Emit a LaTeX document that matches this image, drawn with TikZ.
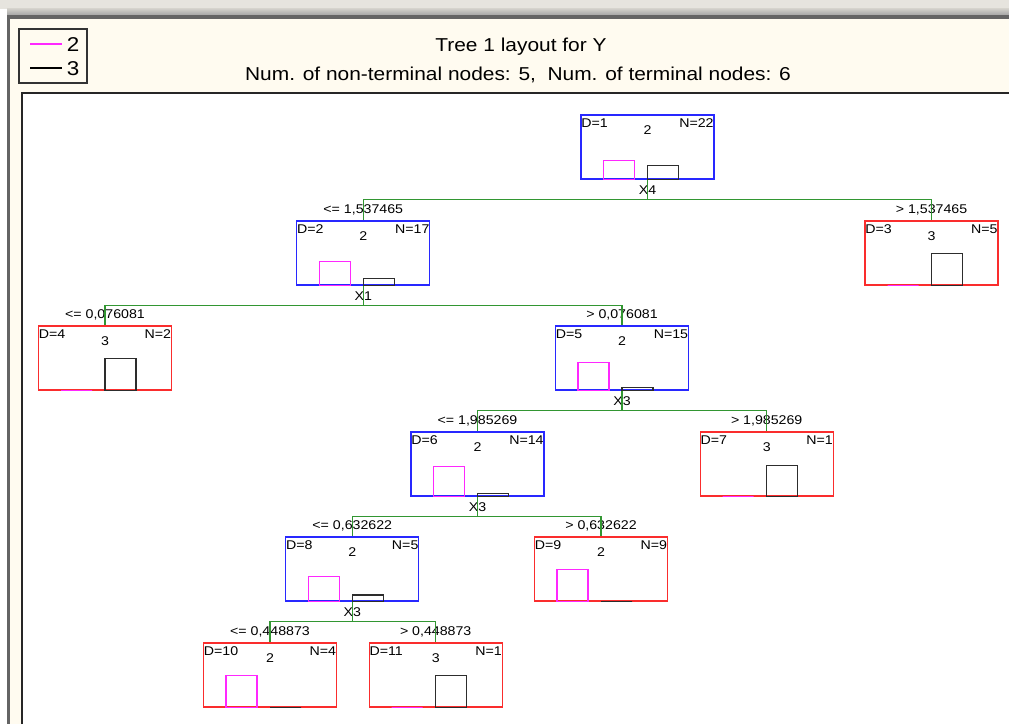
\documentclass[tikz,border=0pt]{standalone}
\usepackage{fontspec}
\setmainfont{Liberation Sans}[FakeStretch=1.12]

\definecolor{edgegreen}{RGB}{50,150,50}
\definecolor{boxblue}{RGB}{40,40,255}
\definecolor{boxred}{RGB}{250,45,45}
\definecolor{barpink}{RGB}{255,40,255}
\definecolor{bargrey}{RGB}{45,45,45}
\definecolor{panel}{RGB}{255,251,240}
\definecolor{chrome}{RGB}{230,228,222}
\definecolor{framedark}{RGB}{100,100,100}

\tikzset{
  box/.style={draw, line width=1pt, minimum width=99.75pt, minimum height=48pt, inner sep=0pt},
  boxtext/.style={font=\fontsize{9.5}{11}\selectfont, inner sep=0.6pt},
  cut/.style={font=\fontsize{9.5}{11}\selectfont, inner sep=0pt},
  titletext/.style={font=\fontsize{14}{16}\selectfont, inner sep=0pt},
  legendtext/.style={font=\fontsize{15}{17}\selectfont, inner sep=0pt},
  edge/.style={draw=edgegreen, line width=1.1pt},
  pinkbar/.style={draw=barpink, line width=1pt},
  greybar/.style={draw=bargrey, line width=1pt},
}

% tree box: name, centre x, top y, colour, D, class, N, pink height, grey height
\newcommand{\treebox}[9]{%
  \node[box, draw=#4] (#1) at (#2,#3+32) {};
  \node[boxtext, anchor=west] (#1d) at ([yshift=-6.4pt]#1.north west) {D=#5};
  \node[boxtext, anchor=east] (#1n) at ([yshift=-6.4pt]#1.north east) {N=#7};
  \node[boxtext] (#1c) at ([yshift=-12pt]#1.north) {#6};
  \draw[pinkbar] ([xshift=-33pt]#1.south) rectangle ++(31,-#8);
  \draw[greybar] (#1.south) rectangle ++(31,-#9);
}

\begin{document}
\begin{tikzpicture}[x=0.75pt, y=-0.75pt]
  \useasboundingbox (0,0) rectangle (1009,724);

  % window frame and panels
  \fill[white] (0,0) rectangle (1009,724);
  \fill[chrome] (0,0) rectangle (1009,9);
  \fill[top color=chrome!90!black, bottom color=black!35] (7,9) rectangle (1009,15);
  \fill[framedark] (7,15) rectangle (1009,19);
  \fill[framedark] (7,15) rectangle (10,724);
  \fill[panel] (10,19) rectangle (1009,724);
  \fill[white] (22,93) rectangle (1009,724);
  \draw[black!85, line width=1pt] (22,724) -- (22,93) -- (1009,93);

  % legend
  \node[draw=black!80, line width=0.9pt, minimum width=51pt, minimum height=40.5pt, inner sep=0pt] (legend) at (53,56) {};
  \draw[barpink, line width=0.9pt] (30,44) -- (62,44);
  \node[legendtext] (leg2) at (73,45) {2};
  \draw[black, line width=0.9pt] (30,68) -- (62,68);
  \node[legendtext] (leg3) at (73,69) {3};

  % titles
  \node[titletext] (title) at (521,47) {Tree 1 layout for Y};
  \node[titletext] (subtitle) at (518,75) {Num. of non-terminal nodes: 5,\ \ Num. of terminal nodes: 6};

  % boxes
  \treebox{d1}{647.5}{115}{boxblue}{1}{2}{22}{19}{14}
  \treebox{d2}{363.3}{221}{boxblue}{2}{2}{17}{24.5}{7.5}
  \treebox{d3}{931.5}{221}{boxred}{3}{3}{5}{0}{32}
  \treebox{d4}{105}{326}{boxred}{4}{3}{2}{0}{32}
  \treebox{d5}{622}{326}{boxblue}{5}{2}{15}{28}{3.5}
  \treebox{d6}{477.5}{432}{boxblue}{6}{2}{14}{30}{3}
  \treebox{d7}{766.7}{432}{boxred}{7}{3}{1}{0}{31}
  \treebox{d8}{352.3}{537}{boxblue}{8}{2}{5}{25.3}{6.7}
  \treebox{d9}{601}{537}{boxred}{9}{2}{9}{32}{0}
  \treebox{d10}{270}{643}{boxred}{10}{2}{4}{32}{0}
  \treebox{d11}{435.7}{643}{boxred}{11}{3}{1}{0}{32}

  % splits
  \node[cut] (x1) at ([yshift=-7.9pt]d1.south) {X4};
  \node[cut] (c2) at ([yshift=7.5pt]d2.north) {<= 1,537465};
  \node[cut] (c3) at ([yshift=7.5pt]d3.north) {> 1,537465};
  \coordinate (s1) at ([yshift=-15pt]d1.south);
  \draw[edge] (d1.south) -- (s1) -| (d2.north);
  \draw[edge] (s1) -| (d3.north);

  \node[cut] (x2) at ([yshift=-7.9pt]d2.south) {X1};
  \node[cut] (c4) at ([yshift=7.5pt]d4.north) {<= 0,076081};
  \node[cut] (c5) at ([yshift=7.5pt]d5.north) {> 0,076081};
  \coordinate (s2) at ([yshift=-15pt]d2.south);
  \draw[edge] (d2.south) -- (s2) -| (d4.north);
  \draw[edge] (s2) -| (d5.north);

  \node[cut] (x5) at ([yshift=-7.9pt]d5.south) {X3};
  \node[cut] (c6) at ([yshift=7.5pt]d6.north) {<= 1,985269};
  \node[cut] (c7) at ([yshift=7.5pt]d7.north) {> 1,985269};
  \coordinate (s5) at ([yshift=-15pt]d5.south);
  \draw[edge] (d5.south) -- (s5) -| (d6.north);
  \draw[edge] (s5) -| (d7.north);

  \node[cut] (x6) at ([yshift=-7.9pt]d6.south) {X3};
  \node[cut] (c8) at ([yshift=7.5pt]d8.north) {<= 0,632622};
  \node[cut] (c9) at ([yshift=7.5pt]d9.north) {> 0,632622};
  \coordinate (s6) at ([yshift=-15pt]d6.south);
  \draw[edge] (d6.south) -- (s6) -| (d8.north);
  \draw[edge] (s6) -| (d9.north);

  \node[cut] (x8) at ([yshift=-7.9pt]d8.south) {X3};
  \node[cut] (c10) at ([yshift=7.5pt]d10.north) {<= 0,448873};
  \node[cut] (c11) at ([yshift=7.5pt]d11.north) {> 0,448873};
  \coordinate (s8) at ([yshift=-15pt]d8.south);
  \draw[edge] (d8.south) -- (s8) -| (d10.north);
  \draw[edge] (s8) -| (d11.north);
\end{tikzpicture}
\end{document}
